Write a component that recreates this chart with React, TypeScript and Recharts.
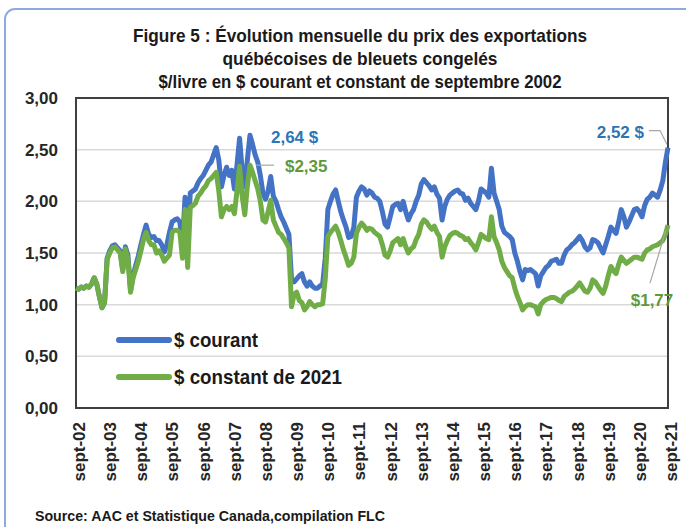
import React from 'react';
import { LineChart, Line, XAxis, YAxis, CartesianGrid, ReferenceArea, ReferenceDot } from 'recharts';

// Month names (series start in September 2002)
const monthNames = ['sept', 'oct', 'nov', 'déc', 'janv', 'févr', 'mars', 'avr', 'mai', 'juin', 'juil', 'août'];
const startYear = 2002;

// $ courant, monthly, sept-02 .. sept-21
const courant = [
  1.16, 1.15, 1.17, 1.16, 1.18, 1.17, 1.20, 1.26, 1.20, 1.08, 0.97, 1.02,
  1.45, 1.52, 1.57, 1.58, 1.55, 1.52, 1.34, 1.56, 1.48, 1.14, 1.28, 1.38,
  1.47, 1.58, 1.68, 1.77, 1.68, 1.65, 1.66, 1.62, 1.62, 1.58, 1.51, 1.58,
  1.70, 1.80, 1.82, 1.83, 1.80, 1.58, 2.04, 1.62, 2.08, 2.10, 2.12, 2.18,
  2.22, 2.25, 2.30, 2.35, 2.38, 2.45, 2.52, 2.40, 2.14, 2.25, 2.33, 2.25,
  2.30, 2.12, 2.35, 2.61, 2.30, 2.14, 2.40, 2.64, 2.55, 2.45, 2.38, 2.25,
  2.08, 2.02, 2.10, 2.24, 2.05, 2.00, 1.92, 1.85, 1.80, 1.74, 1.68, 1.25,
  1.22, 1.25, 1.28, 1.30, 1.22, 1.18, 1.22, 1.18, 1.16, 1.16, 1.18, 1.20,
  1.45, 1.92, 2.00, 2.07, 2.11, 2.00, 1.90, 1.82, 1.75, 1.65, 1.66, 1.75,
  2.04, 2.10, 2.14, 2.12, 2.06, 2.10, 2.08, 2.04, 2.03, 2.00, 1.90, 1.78,
  1.75, 1.85, 1.95, 1.97, 1.98, 1.92, 2.00, 1.90, 1.82, 1.88, 1.92, 2.00,
  2.06, 2.17, 2.21, 2.18, 2.15, 2.11, 2.14, 2.07, 2.03, 1.82, 1.95, 2.02,
  2.06, 2.08, 2.10, 2.11, 2.08, 2.07, 2.01, 2.03, 1.98, 1.95, 1.92, 2.00,
  2.12, 2.10, 2.08, 2.04, 2.32, 2.08, 2.00, 1.92, 1.76, 1.70, 1.68, 1.66,
  1.63, 1.50, 1.42, 1.32, 1.24, 1.34, 1.33, 1.34, 1.32, 1.30, 1.18, 1.28,
  1.32, 1.36, 1.38, 1.42, 1.43, 1.44, 1.40, 1.40, 1.48, 1.53, 1.55, 1.58,
  1.60, 1.63, 1.66, 1.62, 1.56, 1.53, 1.55, 1.63, 1.62, 1.60, 1.55, 1.50,
  1.58, 1.66, 1.75, 1.72, 1.69, 1.80, 1.92, 1.85, 1.75, 1.80, 1.86, 1.92,
  1.93, 1.90, 1.85, 1.96, 2.02, 2.04, 2.08, 2.06, 2.04, 2.11, 2.20, 2.38,
  2.52,
];

// $ constant, monthly, sept-02 .. sept-21
const constant = [
  1.16, 1.15, 1.17, 1.16, 1.18, 1.17, 1.20, 1.26, 1.20, 1.08, 0.97, 1.02,
  1.44, 1.50, 1.55, 1.56, 1.53, 1.50, 1.32, 1.54, 1.44, 1.12, 1.26, 1.34,
  1.42, 1.52, 1.63, 1.70, 1.62, 1.58, 1.58, 1.50, 1.52, 1.48, 1.42, 1.45,
  1.48, 1.70, 1.72, 1.72, 1.70, 1.45, 1.92, 1.36, 1.94, 1.96, 1.98, 2.05,
  2.08, 2.12, 2.15, 2.20, 2.22, 2.25, 2.28, 2.10, 1.85, 1.92, 1.95, 1.92,
  1.95, 1.88, 2.10, 2.34, 2.05, 1.87, 2.15, 2.35, 2.28, 2.20, 2.12, 2.00,
  1.82, 1.80, 1.90, 2.01, 1.82, 1.76, 1.70, 1.68, 1.64, 1.60, 1.55, 0.98,
  1.10, 1.12, 1.04, 1.02, 0.95, 0.98, 1.03, 1.00, 0.98, 1.00, 1.00, 1.01,
  1.25, 1.66, 1.70, 1.73, 1.76, 1.70, 1.62, 1.53, 1.46, 1.38, 1.40, 1.46,
  1.69, 1.75, 1.79, 1.76, 1.72, 1.74, 1.73, 1.70, 1.68, 1.66, 1.58, 1.48,
  1.46, 1.52, 1.60, 1.62, 1.64, 1.58, 1.64, 1.56, 1.50, 1.54, 1.56, 1.63,
  1.68, 1.78, 1.82, 1.80, 1.76, 1.73, 1.76, 1.70, 1.66, 1.46, 1.56, 1.62,
  1.67, 1.69, 1.70, 1.69, 1.67, 1.66, 1.63, 1.64, 1.60, 1.57, 1.53, 1.60,
  1.68, 1.66, 1.64, 1.63, 1.85, 1.66, 1.60, 1.53, 1.42, 1.36, 1.32, 1.28,
  1.26, 1.16, 1.08, 1.02, 0.95, 0.98, 1.00, 1.00, 0.99, 0.98, 0.91, 1.00,
  1.03, 1.05, 1.06, 1.07, 1.07, 1.06, 1.04, 1.03, 1.08, 1.10, 1.12, 1.13,
  1.15, 1.18, 1.21, 1.17, 1.13, 1.12, 1.16, 1.24, 1.22, 1.18, 1.14, 1.11,
  1.18, 1.28, 1.37, 1.33, 1.30, 1.39, 1.46, 1.43, 1.40, 1.42, 1.44, 1.46,
  1.46, 1.45, 1.44, 1.50, 1.53, 1.54, 1.56, 1.57, 1.58, 1.60, 1.62, 1.68,
  1.77,
];

const yTicks = [0, 0.5, 1, 1.5, 2, 2.5, 3];

const titleLines = [
  'Figure 5 : Évolution mensuelle du prix des exportations',
  'québécoises de bleuets congelés',
  '$/livre en $ courant et constant de septembre 2002',
];
const legendNames = ['$ courant', '$ constant de 2021'];
const sourceText = 'Source: AAC et Statistique Canada,compilation FLC';

const BLUE = '#4472C4';
const GREEN = '#70AD47';
const BLUE_TXT = '#2E75B6';
const GREEN_TXT = '#5E9A3C';
const LEADER = '#A6A6A6';
const FONT = "'Liberation Sans', Arial, sans-serif";

const monthLabel = (i: number) => {
  const m = i % 12;
  const y = startYear + Math.floor(i / 12) + (m >= 4 ? 1 : 0);
  return `${monthNames[m]}-${String(y % 100).padStart(2, '0')}`;
};

const data = courant.map((v, i) => ({ m: monthLabel(i), courant: v, constant: constant[i] }));

const fmt = (v: number) => v.toFixed(2).replace('.', ',');

const idxMax = courant.indexOf(Math.max(...courant.slice(0, 120)));
const idxLast = courant.length - 1;

const XTick = (props: any) => {
  const { x, y, payload } = props;
  const ty = y + 14;
  return (
    <text
      x={x}
      y={ty}
      dy={9}
      transform={`rotate(-90 ${x} ${ty})`}
      textAnchor="end"
      fontFamily={FONT}
      fontWeight="bold"
      fontSize={17}
      fill="#262626"
    >
      {payload.value}
    </text>
  );
};

const txt = { fontFamily: FONT, fontWeight: 'bold' as const };

export default function App() {
  return (
    <div style={{ position: 'absolute', left: 0, top: 0, width: 686, height: 527, overflow: 'hidden', background: '#fff' }}>
      <LineChart
        width={686}
        height={527}
        data={data}
        margin={{ top: 98, right: 18, bottom: 54, left: 16 }}
      >
        <CartesianGrid vertical={false} stroke="#D9D9D9" strokeWidth={1.5} />
        <XAxis
          dataKey="m"
          interval={11}
          tick={<XTick />}
          tickLine={false}
          axisLine={false}
          tickSize={0}
          tickMargin={0}
          height={65}
        />
        <YAxis
          domain={[0, 3]}
          ticks={yTicks}
          tickFormatter={fmt}
          width={60}
          tickLine={false}
          axisLine={false}
          tickSize={0}
          tickMargin={18}
          tick={{ fill: '#262626', fontSize: 17, fontWeight: 'bold', fontFamily: FONT }}
        />
        <ReferenceArea
          x1={data[0].m}
          x2={data[idxLast].m}
          y1={0}
          y2={3}
          fill="none"
          fillOpacity={0}
          stroke="#3F3F3F"
          strokeWidth={2}
          ifOverflow="visible"
        />
        <Line type="linear" dataKey="courant" stroke={BLUE} strokeWidth={5} dot={false} isAnimationActive={false} strokeLinejoin="round" />
        <Line type="linear" dataKey="constant" stroke={GREEN} strokeWidth={5} dot={false} isAnimationActive={false} strokeLinejoin="round" />
        <ReferenceDot
          x={data[idxMax].m}
          y={courant[idxMax]}
          r={0}
          ifOverflow="visible"
          shape={(p: any) => (
            <text x={p.cx + 21} y={p.cy + 8} fill={BLUE_TXT} fontSize={17} {...txt}>
              {fmt(courant[idxMax]) + ' $'}
            </text>
          )}
        />
        <ReferenceDot
          x={data[idxMax].m}
          y={constant[idxMax]}
          r={0}
          ifOverflow="visible"
          shape={(p: any) => (
            <g>
              <line x1={p.cx + 6} y1={p.cy} x2={p.cx + 24} y2={p.cy} stroke={LEADER} strokeWidth={1.2} />
              <text x={p.cx + 35} y={p.cy + 7} fill={GREEN_TXT} fontSize={17} {...txt}>
                {'$' + fmt(constant[idxMax])}
              </text>
            </g>
          )}
        />
        <ReferenceDot
          x={data[idxLast].m}
          y={courant[idxLast]}
          r={0}
          ifOverflow="visible"
          shape={(p: any) => (
            <g>
              <polyline
                points={`${p.cx - 1},${p.cy - 3} ${p.cx - 8},${p.cy - 17} ${p.cx - 19},${p.cy - 17}`}
                fill="none"
                stroke={LEADER}
                strokeWidth={1.2}
              />
              <text x={p.cx - 24} y={p.cy - 10} textAnchor="end" fill={BLUE_TXT} fontSize={17} {...txt}>
                {fmt(courant[idxLast]) + ' $'}
              </text>
            </g>
          )}
        />
        <ReferenceDot
          x={data[idxLast].m}
          y={constant[idxLast]}
          r={0}
          ifOverflow="visible"
          shape={(p: any) => (
            <g>
              <line x1={p.cx - 2} y1={p.cy + 5} x2={p.cx - 18} y2={p.cy + 58} stroke={LEADER} strokeWidth={1.2} />
              <text x={p.cx - 16} y={p.cy + 81} textAnchor="middle" fill={GREEN_TXT} fontSize={17} {...txt}>
                {'$' + fmt(constant[idxLast])}
              </text>
            </g>
          )}
        />
      </LineChart>
      <svg
        width={686}
        height={527}
        style={{ position: 'absolute', left: 0, top: 0, pointerEvents: 'none' }}
      >
        <rect x={5} y={9} width={720} height={600} rx={10} fill="none" stroke="#8FAADC" strokeWidth={2} />
        <text x={360} y={42} textAnchor="middle" fontSize={19} fill="#1A1A1A" textLength={454} lengthAdjust="spacingAndGlyphs" {...txt}>
          {titleLines[0]}
        </text>
        <text x={360} y={65} textAnchor="middle" fontSize={19} fill="#1A1A1A" textLength={275} lengthAdjust="spacingAndGlyphs" {...txt}>
          {titleLines[1]}
        </text>
        <text x={360} y={88} textAnchor="middle" fontSize={19} fill="#1A1A1A" textLength={403} lengthAdjust="spacingAndGlyphs" {...txt}>
          {titleLines[2]}
        </text>
        <line x1={119} y1={340} x2={169} y2={340} stroke={BLUE} strokeWidth={6} strokeLinecap="round" />
        <text x={174} y={347} fontSize={21} fill="#1A1A1A" textLength={84} lengthAdjust="spacingAndGlyphs" {...txt}>
          {legendNames[0]}
        </text>
        <line x1={119} y1={377} x2={169} y2={377} stroke={GREEN} strokeWidth={6} strokeLinecap="round" />
        <text x={174} y={384} fontSize={21} fill="#1A1A1A" textLength={168} lengthAdjust="spacingAndGlyphs" {...txt}>
          {legendNames[1]}
        </text>
        <text x={35} y={521} fontSize={15} fill="#1A1A1A" textLength={350} lengthAdjust="spacingAndGlyphs" {...txt}>
          {sourceText}
        </text>
      </svg>
    </div>
  );
}
